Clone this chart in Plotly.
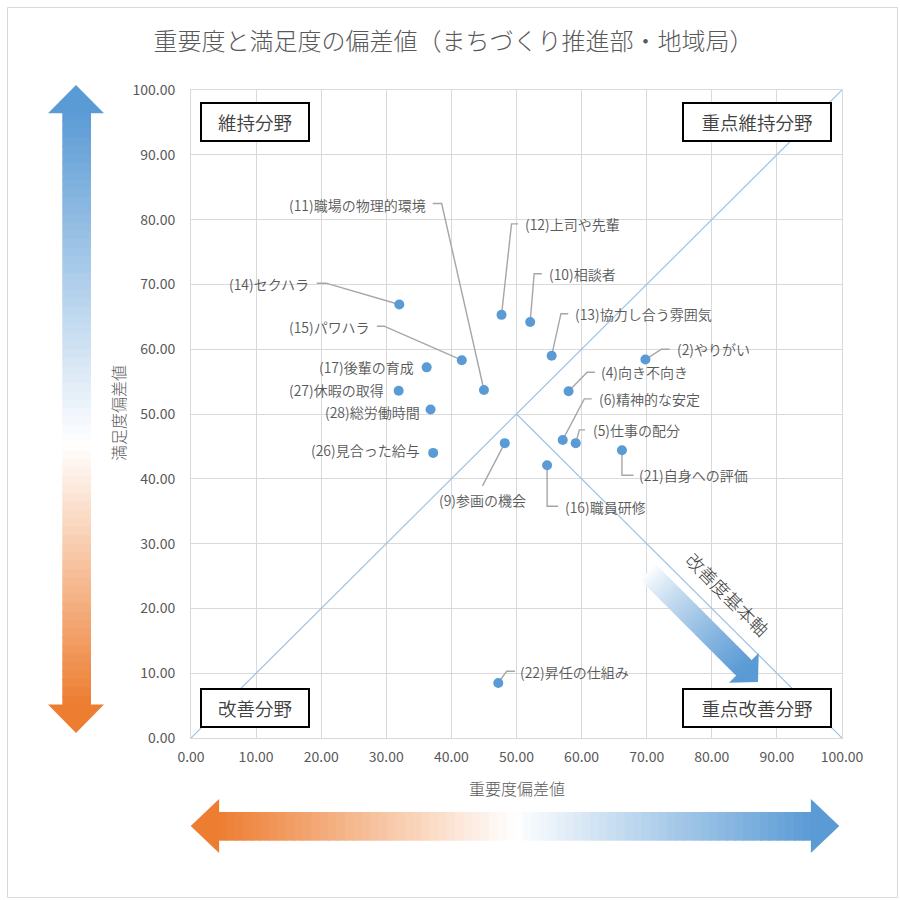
import plotly.graph_objects as go
import math

# ---------------- data ----------------
items = ["(2)やりがい", "(4)向き不向き", "(5)仕事の配分", "(6)精神的な安定", "(9)参画の機会",
         "(10)相談者", "(11)職場の物理的環境", "(12)上司や先輩", "(13)協力し合う雰囲気",
         "(14)セクハラ", "(15)パワハラ", "(16)職員研修", "(17)後輩の育成", "(21)自身への評価",
         "(22)昇任の仕組み", "(26)見合った給与", "(27)休暇の取得", "(28)総労働時間"]
importance = [69.8, 58.0, 59.1, 57.1, 48.2, 52.1, 45.0, 47.7, 55.4,
              32.0, 41.6, 54.7, 36.2, 66.2, 47.2, 37.2, 31.9, 36.8]
satisfaction = [58.4, 53.5, 45.5, 46.0, 45.5, 64.2, 53.7, 65.3, 59.0,
                66.9, 58.3, 42.1, 57.2, 44.4, 8.5, 44.0, 53.6, 50.7]
quadrants = ["維持分野", "重点維持分野", "改善分野", "重点改善分野"]
title = "重要度と満足度の偏差値（まちづくり推進部・地域局）"
x_title = "重要度偏差値"
y_title = "満足度偏差値"
axis_note = "改善度基本軸"

# ---------------- layout geometry (pixels) ----------------
L, R, T, B = 191, 58, 90, 162
PW, PH = 900 - L - R, 900 - T - B
XU, YU = 100.0 / PW, 100.0 / PH   # data units per pixel

def fx(px):
    return (px - L) / PW

def fy(py):
    return (T + PH - py) / PH

FONT = "Noto Sans CJK JP, Noto Sans, sans-serif"
GREY = "#595959"
BLUE = (91, 155, 213)
ORANGE = (237, 125, 49)
WHITE = (255, 255, 255)

# label placement: leader path offsets (px, y down), text offset (px), anchor
label_pos = {
    "(2)やりがい": ([(16, -10.3), (24.3, -10.3)], (29.3, -10.3), "left"),
    "(4)向き不向き": ([(18.6, -19), (26.3, -19)], (30.6, -19), "left"),
    "(5)仕事の配分": ([(3.6, -13.3), (9.3, -13.3)], (15, -13.3), "left"),
    "(6)精神的な安定": ([(21.6, -41), (29, -41)], (34, -41), "left"),
    "(9)参画の機会": ([(-22.3, 42.7)], (-22.7, 56.7), "center"),
    "(10)相談者": ([(4, -48.3), (11.7, -48.3)], (16.7, -48.3), "left"),
    "(11)職場の物理的環境": ([(-42.3, -186.5), (-51.3, -186.5)], (-56, -185.5), "right"),
    "(12)上司や先輩": ([(10, -91), (16.6, -91)], (21.6, -91), "left"),
    "(13)協力し合う雰囲気": ([(9.3, -42), (16.6, -42)], (21, -42), "left"),
    "(14)セクハラ": ([(-73.3, -21.3), (-82.6, -21.3)], (-88.3, -20.8), "right"),
    "(15)パワハラ": ([(-77.7, -34), (-85, -34)], (-89.7, -33.5), "right"),
    "(16)職員研修": ([(0, 41), (11, 41)], (15.4, 41.5), "left"),
    "(17)後輩の育成": ([], (-10.7, -0.3), "right"),
    "(21)自身への評価": ([(0, 25), (11.6, 25)], (15, 25), "left"),
    "(22)昇任の仕組み": ([(8.4, -11.7), (16.7, -11.7)], (20, -11), "left"),
    "(26)見合った給与": ([], (-11.6, -2.7), "right"),
    "(27)休暇の取得": ([], (-12.3, -0.7), "right"),
    "(28)総労働時間": ([], (-9, 2.4), "right"),
}

fig = go.Figure()

# reference diagonals
fig.add_trace(go.Scatter(x=[0, 100], y=[0, 100], mode="lines",
                         line=dict(color="#9dc3e6", width=1.2), hoverinfo="skip", showlegend=False))
fig.add_trace(go.Scatter(x=[50, 100], y=[50, 0], mode="lines",
                         line=dict(color="#9dc3e6", width=1.2), hoverinfo="skip", showlegend=False))

annotations = []
# leader lines + labels
for name, xv, yv in zip(items, importance, satisfaction):
    path, (tx, ty), anchor = label_pos[name]
    if path:
        lx = [xv] + [xv + dx * XU for dx, dy in path]
        ly = [yv] + [yv - dy * YU for dx, dy in path]
        fig.add_trace(go.Scatter(x=lx, y=ly, mode="lines",
                                 line=dict(color="#a6a6a6", width=1.4),
                                 hoverinfo="skip", showlegend=False))
    annotations.append(dict(x=xv, y=yv, xref="x", yref="y", text=name, showarrow=False,
                            xshift=tx, yshift=-ty, xanchor=anchor, yanchor="middle",
                            font=dict(family=FONT, size=14, color=GREY, weight=350)))

# points
fig.add_trace(go.Scatter(x=importance, y=satisfaction, mode="markers",
                         marker=dict(color="#5b9bd5", size=10, line=dict(width=0)),
                         text=items, hoverinfo="text", showlegend=False))

# ---------------- gradient arrows (decoration) ----------------
shapes = []

def mix(c1, c2, t):
    return "rgb(%d,%d,%d)" % tuple(round(a + (b - a) * t) for a, b in zip(c1, c2))

def poly(pts, color, layer="above"):
    d = "M " + " L ".join(f"{fx(x):.5f},{fy(y):.5f}" for x, y in pts) + " Z"
    shapes.append(dict(type="path", path=d, xref="paper", yref="paper",
                       fillcolor=color, line=dict(width=0), layer=layer))

def three_stop(c_start, c_end, t, mid=0.5):
    if t < mid:
        return mix(c_start, WHITE, t / mid)
    return mix(WHITE, c_end, (t - mid) / (1 - mid))

N = 70
# vertical arrow
vx0, vx1, vy0, vy1 = 62.3, 91, 112.7, 705
for i in range(N):
    a = vy0 + (vy1 - vy0) * i / N
    b = vy0 + (vy1 - vy0) * (i + 1) / N
    t = (i + 0.5) / N
    poly([(vx0, a - 0.6), (vx1, a - 0.6), (vx1, b + 0.6), (vx0, b + 0.6)],
         three_stop(BLUE, ORANGE, t, 0.56))
poly([(76, 85), (104, vy0 + 0.6), (48, vy0 + 0.6)], mix(BLUE, BLUE, 0))
poly([(48, vy1 - 0.6), (104, vy1 - 0.6), (76, 733)], mix(ORANGE, ORANGE, 0))

# horizontal arrow
hx0, hx1, hy0, hy1 = 218.5, 811.5, 812, 840.7
for i in range(N):
    a = hx0 + (hx1 - hx0) * i / N
    b = hx0 + (hx1 - hx0) * (i + 1) / N
    t = (i + 0.5) / N
    poly([(a - 0.6, hy0), (b + 0.6, hy0), (b + 0.6, hy1), (a - 0.6, hy1)],
         three_stop(ORANGE, BLUE, t, 0.5))
poly([(190.7, 826), (hx0 + 0.6, 799), (hx0 + 0.6, 853)], mix(ORANGE, ORANGE, 0))
poly([(hx1 - 0.6, 799), (839.3, 826), (hx1 - 0.6, 853)], mix(BLUE, BLUE, 0))

# diagonal arrow
ux, uy = 1 / math.sqrt(2), 1 / math.sqrt(2)
nx, ny = 1 / math.sqrt(2), -1 / math.sqrt(2)
tip = (758, 682)
hl, hw, bw = 20, 21, 11
base = (tip[0] - hl * ux, tip[1] - hl * uy)
blen = 135
start = (base[0] - blen * ux, base[1] - blen * uy)
M = 50
for i in range(M):
    s0 = blen * i / M - 0.5
    s1 = blen * (i + 1) / M + 0.5
    t = (i + 0.5) / M
    p0 = (start[0] + s0 * ux, start[1] + s0 * uy)
    p1 = (start[0] + s1 * ux, start[1] + s1 * uy)
    poly([(p0[0] + bw * nx, p0[1] + bw * ny), (p1[0] + bw * nx, p1[1] + bw * ny),
          (p1[0] - bw * nx, p1[1] - bw * ny), (p0[0] - bw * nx, p0[1] - bw * ny)],
         mix(WHITE, BLUE, t ** 0.8))
poly([(base[0] + hw * nx, base[1] + hw * ny), tip, (base[0] - hw * nx, base[1] - hw * ny)],
     mix(BLUE, BLUE, 0))

# outer chart border
shapes.append(dict(type="rect", xref="paper", yref="paper",
                   x0=fx(7.5), x1=fx(897.5), y0=fy(897.5), y1=fy(7.5),
                   line=dict(color="#d9d9d9", width=1), fillcolor="rgba(0,0,0,0)", layer="below"))

# ---------------- quadrant boxes ----------------
box_centers = [(255, 121.7), (756.7, 121.7), (255, 708.3), (756.7, 708.3)]
box_widths = [106, 146, 106, 146]
for q, (cx, cy), w in zip(quadrants, box_centers, box_widths):
    annotations.append(dict(x=fx(cx), y=fy(cy), xref="paper", yref="paper", text=q,
                            showarrow=False, xanchor="center", yanchor="middle",
                            width=w, height=36, borderwidth=2, borderpad=0,
                            bordercolor="#000000", bgcolor="#ffffff",
                            font=dict(family=FONT, size=18.5, color="#404040", weight=350)))

# axis titles and diagonal note
annotations.append(dict(x=fx(517), y=fy(788), xref="paper", yref="paper", text=x_title,
                        showarrow=False, xanchor="center", yanchor="middle",
                        font=dict(family=FONT, size=16, color=GREY, weight=300)))
annotations.append(dict(x=fx(118), y=fy(413), xref="paper", yref="paper", text=y_title,
                        showarrow=False, xanchor="center", yanchor="middle", textangle=-90,
                        font=dict(family=FONT, size=16, color=GREY, weight=300)))
annotations.append(dict(x=fx(728), y=fy(594), xref="paper", yref="paper", text=axis_note,
                        showarrow=False, xanchor="center", yanchor="middle", textangle=45,
                        font=dict(family=FONT, size=18, color="#404040", weight=300)))

axis_common = dict(range=[0, 100], dtick=10, tick0=0, tickformat=".2f",
                   showgrid=True, gridcolor="#d9d9d9", gridwidth=1,
                   showline=True, linecolor="#d9d9d9", linewidth=1, mirror=True,
                   zeroline=False, automargin=False, ticks="",
                   tickfont=dict(family=FONT, size=14, color=GREY), fixedrange=True)

fig.update_layout(
    width=900, height=900,
    margin=dict(l=L, r=R, t=T, b=B, autoexpand=False),
    paper_bgcolor="#ffffff", plot_bgcolor="#ffffff",
    title=dict(text=title, x=453.5 / 900, xanchor="center", y=1 - 42 / 900, yanchor="middle",
               font=dict(family=FONT, size=24, color=GREY, weight=300)),
    xaxis=dict(**axis_common, ticklabelstandoff=6),
    yaxis=dict(**axis_common, ticklabelstandoff=12),
    shapes=shapes,
    annotations=annotations,
    showlegend=False,
)

fig.write_html("out.html")
